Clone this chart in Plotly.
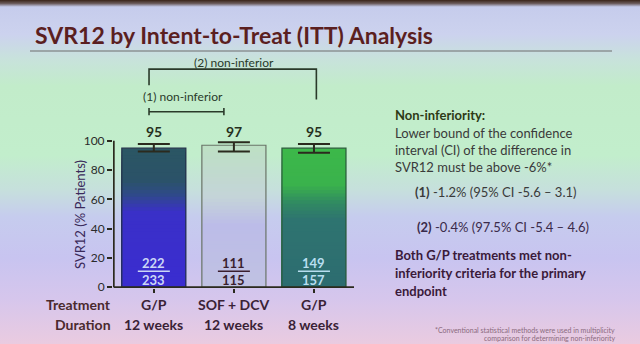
import base64
import plotly.graph_objects as go

# ---------------- data ----------------
treatments = ["G/P", "SOF + DCV", "G/P"]
durations = ["12 weeks", "12 weeks", "8 weeks"]
svr12 = [95, 97, 95]
ci_upper = [97.9, 99.0, 97.9]
ci_lower = [92.8, 92.8, 91.8]
responders = [222, 111, 149]
patients = [233, 115, 157]
y_ticks = [0, 20, 40, 60, 80, 100]
value_labels = ["95", "97", "95"]

# ---------------- styling ----------------
FONT = "Lato"
W_FIG, H_FIG = 640, 344
L, R, T, B = 113, 286, 53, 56
PW = W_FIG - L - R
PH = H_FIG - T - B

bar_stops = [
    [(0.0, "#3a2cd0"), (0.55, "#3a30c8"), (0.68, "#2f4a88"), (0.78, "#2b5268"), (1.0, "#2b5664")],
    [(0.0, "#c0c2e2"), (0.45, "#bcbce8"), (0.65, "#c4d4d8"), (1.0, "#bde0c4")],
    [(0.0, "#2d6c70"), (0.5, "#2e7470"), (0.62, "#318a62"), (0.75, "#3ab24c"), (1.0, "#3cb84a")],
]
outline_colors = ["#23304a", "#6a7468", "#2a5a3a"]
frac_colors = ["#cbd6f6", "#3a1e2e", "#b8def0"]
dark = "#2b2a1e"


def hex2rgb(h):
    h = h.lstrip("#")
    return tuple(int(h[i:i + 2], 16) for i in (0, 2, 4))


def interp(stops, f):
    for (f0, c0), (f1, c1) in zip(stops[:-1], stops[1:]):
        if f0 <= f <= f1:
            t = 0 if f1 == f0 else (f - f0) / (f1 - f0)
            a, b = hex2rgb(c0), hex2rgb(c1)
            return "rgb(%d,%d,%d)" % tuple(round(a[i] + (b[i] - a[i]) * t) for i in range(3))
    return stops[-1][1]


def px_x(px):
    return (px - L) / PW


def px_y(py):
    return (H_FIG - B - py) / PH


fig = go.Figure()
xs = list(range(len(svr12)))

# gradient bars: overlaid stacks of shrinking bars
N = 40
for k in range(N):
    frac = 1 - k / N
    fig.add_trace(go.Bar(
        x=xs, y=[v * frac for v in svr12], width=0.8,
        marker=dict(color=[interp(bar_stops[i], frac) for i in range(len(svr12))], line=dict(width=0)),
        hoverinfo="skip", showlegend=False,
    ))

# outline + error bars
fig.add_trace(go.Bar(
    x=xs, y=svr12, width=0.8,
    marker=dict(color="rgba(0,0,0,0)", line=dict(color=outline_colors, width=1.2)),
    error_y=dict(type="data", symmetric=False,
                 array=[u - v for u, v in zip(ci_upper, svr12)],
                 arrayminus=[v - lo for v, lo in zip(svr12, ci_lower)],
                 color=dark, thickness=2, width=16),
    showlegend=False,
))

# background gradient image
bg_stops = [
    (0.000, "#3a2418"), (0.010, "#6a5a5a"), (0.020, "#c6ccec"), (0.10, "#ccd2ee"),
    (0.17, "#c8e2dc"), (0.25, "#c2ecca"), (0.45, "#c2eecc"), (0.55, "#c6e0dc"),
    (0.63, "#c6ccee"), (0.75, "#c8c4f0"), (0.87, "#d6c6ec"), (1.0, "#eacbe0"),
]
stops_svg = "".join('<stop offset="%g" stop-color="%s"/>' % (o, c) for o, c in bg_stops)
svg = ('<svg xmlns="http://www.w3.org/2000/svg" width="640" height="344" viewBox="0 0 640 344" '
       'preserveAspectRatio="none"><defs><linearGradient id="g" x1="0" y1="0" x2="0" y2="1">'
       + stops_svg + '</linearGradient></defs><rect width="640" height="344" fill="url(#g)"/></svg>')
src = "data:image/svg+xml;base64," + base64.b64encode(svg.encode()).decode()
fig.add_layout_image(dict(source=src, xref="paper", yref="paper", x=px_x(0), y=px_y(0),
                          sizex=W_FIG / PW, sizey=H_FIG / PH, xanchor="left", yanchor="top",
                          sizing="stretch", layer="below"))

shapes = []
# axis lines
shapes.append(dict(type="line", xref="x", yref="y", x0=-0.5, x1=-0.5, y0=0, y1=max(y_ticks),
                   line=dict(color=dark, width=1.8)))
shapes.append(dict(type="line", xref="x", yref="y", x0=-0.5, x1=len(svr12) - 0.5, y0=0, y1=0,
                   line=dict(color=dark, width=1.8)))
# title rule
shapes.append(dict(type="line", xref="paper", yref="paper", x0=px_x(30), x1=px_x(612),
                   y0=px_y(51), y1=px_y(51), line=dict(color="#6e6e6e", width=1.2)))
# bracket (2): G/P 12 wk vs G/P 8 wk
bc = "#2a3a2a"
shapes.append(dict(type="path", xref="x", yref="y",
                   path="M -0.06,138 L -0.06,149 L 2.03,149 L 2.03,128.3",
                   line=dict(color=bc, width=1.6)))
# bracket (1): G/P 12 wk vs SOF+DCV
shapes.append(dict(type="line", xref="x", yref="y", x0=-0.06, x1=0.875, y0=119.9, y1=119.9,
                   line=dict(color=bc, width=1.6)))
for xx in (-0.06, 0.875):
    shapes.append(dict(type="line", xref="x", yref="y", x0=xx, x1=xx, y0=117.4, y1=122.4,
                       line=dict(color=bc, width=1.6)))
# fraction bars
for i in xs:
    shapes.append(dict(type="line", xref="x", yref="y", x0=i - 0.2, x1=i + 0.2, y0=10.9, y1=10.9,
                       line=dict(color=frac_colors[i], width=1.5)))

ann = []
ann.append(dict(text="<b>SVR12 by Intent-to-Treat (ITT) Analysis</b>", xref="paper", yref="paper",
                x=px_x(33), y=px_y(35), xanchor="left", yanchor="middle", showarrow=False,
                font=dict(family=FONT, size=23, color="#5b1f1f")))
ann.append(dict(text="(2) non-inferior", xref="x", yref="y", x=1.0, y=153.6, showarrow=False,
                font=dict(family=FONT, size=12, color="#2a3a2a")))
ann.append(dict(text="(1) non-inferior", xref="x", yref="y", x=0.36, y=130.1, showarrow=False,
                font=dict(family=FONT, size=12, color="#2a3a2a")))
for i in xs:
    ann.append(dict(text="<b>%s</b>" % value_labels[i], xref="x", yref="y", x=i, y=106.6,
                    showarrow=False, font=dict(family=FONT, size=14, color="#26301e")))
    ann.append(dict(text="<b>%d</b>" % responders[i], xref="x", yref="y", x=i, y=16.8,
                    showarrow=False, font=dict(family=FONT, size=13, color=frac_colors[i])))
    ann.append(dict(text="<b>%d</b>" % patients[i], xref="x", yref="y", x=i, y=5.0,
                    showarrow=False, font=dict(family=FONT, size=13, color=frac_colors[i])))
    ann.append(dict(text="<b>%s</b>" % treatments[i], xref="x", yref="paper", x=i, y=px_y(304),
                    showarrow=False, yanchor="middle",
                    font=dict(family=FONT, size=14, color="#3a2236")))
    ann.append(dict(text="<b>%s</b>" % durations[i], xref="x", yref="paper", x=i, y=px_y(324),
                    showarrow=False, yanchor="middle",
                    font=dict(family=FONT, size=14, color="#3a2236")))
for lab, py in (("Treatment", 304), ("Duration", 324)):
    ann.append(dict(text="<b>%s</b>" % lab, xref="paper", yref="paper", x=px_x(113), y=px_y(py),
                    xanchor="right", yanchor="middle", showarrow=False,
                    font=dict(family=FONT, size=14, color="#4a2a2e")))
ann.append(dict(text="SVR12 (% Patients)", xref="paper", yref="paper", x=px_x(80), y=px_y(215),
                textangle=-90, showarrow=False, xanchor="center", yanchor="middle",
                font=dict(family=FONT, size=13, color="#3a2a5a")))

right_lines = [
    ("<b>Non-inferiority:</b>", 393, 115, "#2e3a16"),
    ("Lower bound of the confidence", 393, 132.5, "#3a3a3a"),
    ("interval (CI) of the difference in", 393, 149.5, "#3a3a3a"),
    ("SVR12 must be above -6%*", 393, 166.5, "#3a3a3a"),
    ("<b>(1)</b> -1.2% (95% CI -5.6 \u2013 3.1)", 413, 192, "#3a3a3a"),
    ("<b>(2)</b> -0.4% (97.5% CI -5.4 \u2013 4.6)", 415, 226.5, "#3a2a4a"),
    ("<b>Both G/P treatments met non-</b>", 393, 255, "#3a1a3a"),
    ("<b>inferiority criteria for the primary</b>", 393, 273, "#3a1a3a"),
    ("<b>endpoint</b>", 393, 291, "#3a1a3a"),
]
for txt, px, py, col in right_lines:
    ann.append(dict(text=txt, xref="paper", yref="paper", x=px_x(px), y=px_y(py),
                    xanchor="left", yanchor="middle", showarrow=False,
                    font=dict(family=FONT, size=13, color=col)))
for txt, py in (("*Conventional statistical methods were used in multiplicity", 329.5),
                ("comparison for determining non-inferiority", 338)):
    ann.append(dict(text=txt, xref="paper", yref="paper", x=px_x(617), y=px_y(py),
                    xanchor="right", yanchor="middle", showarrow=False,
                    font=dict(family=FONT, size=7, color="#8a6a7e")))

fig.update_layout(
    width=W_FIG, height=H_FIG,
    margin=dict(l=L, r=R, t=T, b=B, pad=0),
    paper_bgcolor="#c8e4d8", plot_bgcolor="rgba(0,0,0,0)",
    barmode="overlay", bargap=0.2,
    shapes=shapes, annotations=ann,
    xaxis=dict(range=[-0.51, 2.5], showgrid=False, zeroline=False, showline=False,
               tickvals=xs, ticks="outside", ticklen=4, tickwidth=1.5, tickcolor=dark,
               showticklabels=False, fixedrange=True),
    yaxis=dict(range=[-0.5, 160], showgrid=False, zeroline=False, showline=False,
               tickvals=y_ticks, ticks="outside", ticklen=5, tickwidth=1.5, tickcolor=dark,
               tickfont=dict(family=FONT, size=12, color="#2a2a2a"), fixedrange=True),
    font=dict(family=FONT),
)
fig.write_html("out.html")
